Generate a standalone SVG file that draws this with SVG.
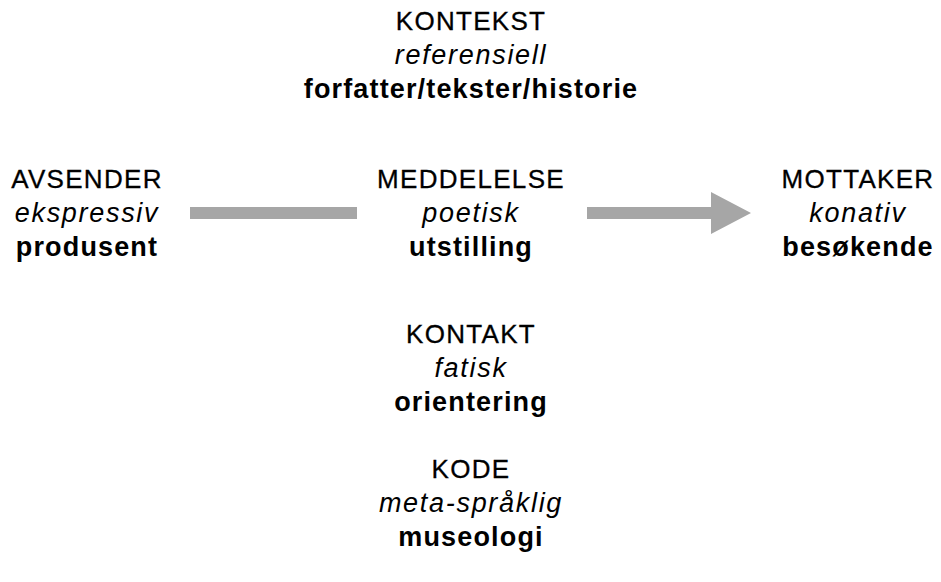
<svg xmlns="http://www.w3.org/2000/svg" width="941" height="582" viewBox="0 0 941 582">
<style>
text{font-family:"Liberation Sans",Arial,sans-serif;font-size:26px;fill:#000;text-anchor:middle}
.c{letter-spacing:1.3px;stroke:#000;stroke-width:0.3px}
.i{font-style:italic;font-size:27px;letter-spacing:1.7px}
.b{font-weight:bold;font-size:27px;letter-spacing:1.15px}
.bar{fill:#a6a6a6}
</style>
<rect width="941" height="582" fill="#fff"/>
<g id="connectors">
<rect class="bar" x="190" y="207" width="167" height="12"/>
<path class="bar" d="M587 207 H711 V192 L751 213 L711 234 V219 H587 Z"/>
</g>
<g id="kontekst">
<text x="471" y="30" class="c">KONTEKST</text>
<text x="471" y="64" class="i">referensiell</text>
<text x="471" y="98" class="b">forfatter/tekster/historie</text>
</g>
<g id="avsender">
<text x="87" y="188" class="c">AVSENDER</text>
<text x="87" y="222" class="i">ekspressiv</text>
<text x="87" y="256" class="b">produsent</text>
</g>
<g id="meddelelse">
<text x="471" y="188" class="c">MEDDELELSE</text>
<text x="471" y="222" class="i">poetisk</text>
<text x="471" y="256" class="b">utstilling</text>
</g>
<g id="mottaker">
<text x="858" y="188" class="c">MOTTAKER</text>
<text x="858" y="222" class="i">konativ</text>
<text x="858" y="256" class="b">besøkende</text>
</g>
<g id="kontakt">
<text x="471" y="343" class="c">KONTAKT</text>
<text x="471" y="377" class="i">fatisk</text>
<text x="471" y="411" class="b">orientering</text>
</g>
<g id="kode">
<text x="471" y="478" class="c">KODE</text>
<text x="471" y="512" class="i">meta-språklig</text>
<text x="471" y="546" class="b">museologi</text>
</g>
</svg>
